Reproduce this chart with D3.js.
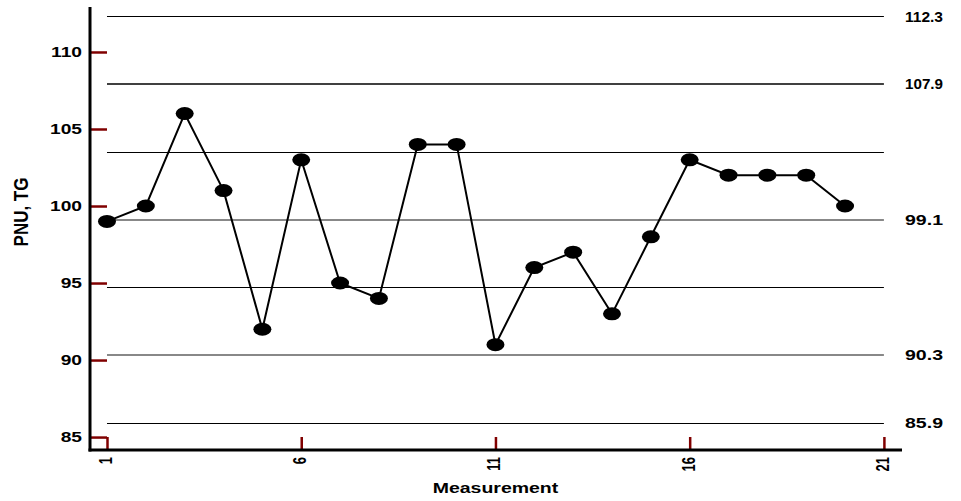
<!DOCTYPE html>
<html>
<head>
<meta charset="utf-8">
<style>
    body { margin: 0; background: #fff; }
    text { font-family: "Liberation Sans", Arial, sans-serif; font-weight: bold; fill: #000; }
</style>
<script src="https://d3js.org/d3.v7.min.js"></script>
</head>
<body>
<div id="chart"></div>
<script>
// measurement number and value
var measurement = [1, 2, 3, 4, 5, 6, 7, 8, 9, 10, 11, 12, 13, 14, 15, 16, 17, 18, 19, 20];
var pnu = [99, 100, 106, 101, 92, 103, 95, 94, 104, 104, 91, 96, 97, 93, 98, 103, 102, 102, 102, 100];

// control limit lines (center, 1, 2 and 3 sigma)
var limitValues = [112.3, 107.9, 103.5, 99.1, 94.7, 90.3, 85.9];
var limitLabels = ["112.3", "107.9", "", "99.1", "", "90.3", "85.9"];

var yTicks = [85, 90, 95, 100, 105, 110];
var xTicks = [1, 6, 11, 16, 21];

var width = 961, height = 501;

var svg = d3.select("#chart").append("svg")
    .attr("width", width)
    .attr("height", height);

var x = d3.scaleLinear().domain([0.5624, 21.44]).range([90, 901]);
var y = d3.scaleLinear().domain([84.16, 112.92]).range([450, 7]);

// limit lines
var lineStyle = function(i) {
    if (i == 3 || i == 5) return { c: "#888", w: 2 };
    if (i == 1) return { c: "#000", w: 1.5 };
    return { c: "#000", w: 1 };
};
// snap thin lines to the pixel grid so they stay crisp
var snap = function(v, w) {
    return w % 2 == 1 ? Math.round(v - 0.5) + 0.5 : Math.round(v);
};

svg.selectAll(".limit")
    .data(limitValues)
    .enter()
    .append("line")
    .attr("class", "limit")
    .attr("x1", x(1))
    .attr("x2", x(21))
    .attr("y1", (d, i) => snap(y(d), lineStyle(i).w))
    .attr("y2", (d, i) => snap(y(d), lineStyle(i).w))
    .attr("stroke", (d, i) => lineStyle(i).c)
    .attr("stroke-width", (d, i) => lineStyle(i).w);

svg.selectAll(".limitLabel")
    .data(limitValues.filter((d, i) => limitLabels[i] != ""))
    .enter()
    .append("text")
    .attr("class", "limitLabel")
    .attr("x", 905)
    .attr("y", d => y(d) + 5)
    .attr("font-size", 14)
    .attr("textLength", 38)
    .attr("lengthAdjust", "spacingAndGlyphs")
    .text(d => limitLabels[limitValues.indexOf(d)]);

// axes
var yAxis = d3.axisRight(y).tickValues(yTicks).tickSize(17).tickFormat("");
var gy = svg.append("g").attr("transform", "translate(90,0)").call(yAxis);
var xAxis = d3.axisTop(x).tickValues(xTicks).tickSize(13).tickFormat("");
var gx = svg.append("g").attr("transform", "translate(0,450)").call(xAxis);

[gy, gx].forEach(function(g) {
    g.select(".domain").remove();
    g.selectAll(".tick line").attr("stroke", "#800000").attr("stroke-width", 2.5);
});

svg.append("line")
    .attr("x1", 90).attr("x2", 90)
    .attr("y1", 7).attr("y2", 451.5)
    .attr("stroke", "#000").attr("stroke-width", 3);
svg.append("line")
    .attr("x1", 88.5).attr("x2", 902)
    .attr("y1", 450).attr("y2", 450)
    .attr("stroke", "#000").attr("stroke-width", 3);

// tick labels
svg.selectAll(".yLabel")
    .data(yTicks)
    .enter()
    .append("text")
    .attr("class", "yLabel")
    .attr("text-anchor", "end")
    .attr("transform", d => "translate(82," + (y(d) + 5) + ") scale(1.37,1)")
    .attr("font-size", 14)
    .text(d => d);

svg.selectAll(".xLabel")
    .data(xTicks)
    .enter()
    .append("text")
    .attr("class", "xLabel")
    .attr("text-anchor", "end")
    .attr("transform", d => "translate(" + (x(d) + 5) + ",457) rotate(-90) scale(1,1.45)")
    .attr("font-size", 13)
    .text(d => d);

// axis titles
svg.append("text")
    .attr("text-anchor", "middle")
    .attr("transform", "translate(" + x(11) + ",493) scale(1.3,1)")
    .attr("font-size", 15)
    .text("Measurement");

svg.append("text")
    .attr("text-anchor", "middle")
    .attr("transform", "translate(28,212) rotate(-90) scale(1,1.2)")
    .attr("font-size", 17)
    .text("PNU, TG");

// data line and markers
var pts = measurement.map((m, i) => [m, pnu[i]]);
svg.append("path")
    .datum(pts)
    .attr("fill", "none")
    .attr("stroke", "#000")
    .attr("stroke-width", 2)
    .attr("d", d3.line().x(d => x(d[0])).y(d => y(d[1])));

svg.selectAll(".pt")
    .data(pts)
    .enter()
    .append("ellipse")
    .attr("class", "pt")
    .attr("cx", d => x(d[0]))
    .attr("cy", d => y(d[1]))
    .attr("rx", 9)
    .attr("ry", 6.5)
    .attr("fill", "#000");
</script>
</body>
</html>
